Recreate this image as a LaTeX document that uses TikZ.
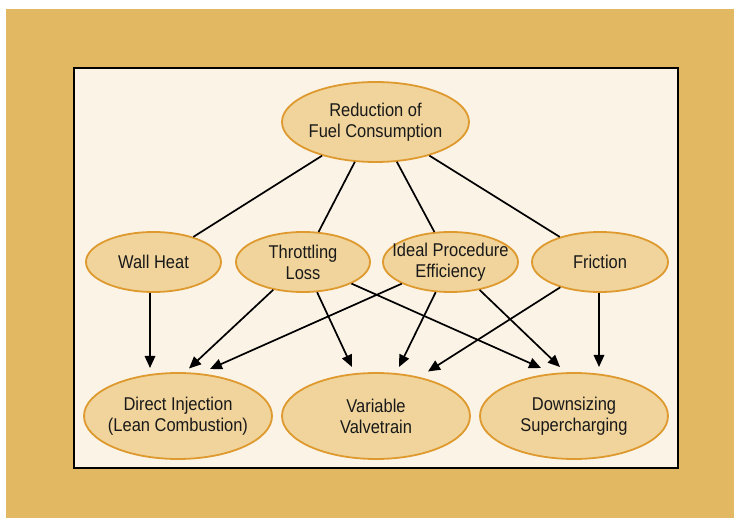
\documentclass[tikz,border=0pt]{standalone}
\usepackage{fontspec}
\setmainfont{Liberation Sans}[FakeStretch=0.89]
\usetikzlibrary{arrows.meta,shapes.geometric}
\definecolor{tanbg}{HTML}{E3B862}
\definecolor{panel}{HTML}{FCF3E7}
\definecolor{ellfill}{HTML}{F0D49C}
\definecolor{ellline}{HTML}{DE9A2E}
\tikzset{
  ell/.style={ellipse, draw=ellline, fill=ellfill, line width=1.8pt, inner sep=0pt},
  txt/.style={align=center, inner sep=0pt, text=black!90, font=\fontsize{18.5}{21}\selectfont},
  link/.style={line width=1.7pt, black},
  arr/.style={line width=1.7pt, black, -{Triangle[length=12pt,width=10.5pt]}}
}
\begin{document}
\begin{tikzpicture}[x=1pt,y=-1pt]
\useasboundingbox (0,0) rectangle (734,518);
\fill[white] (0,0) rectangle (734,518);
\fill[tanbg] (6,9) rectangle (734,518);
\draw[fill=panel, line width=1.4pt] (74,68) rectangle (678,468);
% nodes
\node[ell, minimum width=187pt, minimum height=80pt] (RF) at (375.5,122) {};
\node[txt] (RFt) at (RF) {Reduction of\\Fuel Consumption};
\node[ell, minimum width=135pt, minimum height=60pt] (WH) at (153.5,262) {};
\node[txt] (WHt) at (WH) {Wall Heat};
\node[ell, minimum width=134pt, minimum height=60pt] (TL) at (303,262) {};
\node[txt] (TLt) at (TL) {Throttling\\Loss};
\node[ell, minimum width=135pt, minimum height=60pt] (IP) at (450.5,262) {};
\node[txt] (IPt) at (IP) {Ideal Procedure\\Efficiency};
\node[ell, minimum width=136pt, minimum height=60pt] (FR) at (600,262) {};
\node[txt] (FRt) at (FR) {Friction};
\node[ell, minimum width=188pt, minimum height=86pt] (DI) at (178,416) {};
\node[txt] (DIt) at (DI) {Direct Injection\\(Lean Combustion)};
\node[ell, minimum width=188pt, minimum height=86pt] (VV) at (376,416) {};
\node[txt] (VVt) at (VV) {Variable\\Valvetrain};
\node[ell, minimum width=188pt, minimum height=86pt] (DS) at (574,416) {};
\node[txt] (DSt) at (DS) {Downsizing\\Supercharging};
% arrow tips
\coordinate (tWH) at (150,368);
\coordinate (tTLa) at (189,368.5);
\coordinate (tIPa) at (210,369);
\coordinate (tTLb) at (352,367);
\coordinate (tIPb) at (399,367);
\coordinate (tFRb) at (428,371.5);
\coordinate (tTLc) at (541,368);
\coordinate (tIPc) at (560,367);
\coordinate (tFR) at (599,367);
% top links
\draw[link] (RF) -- (WH);
\draw[link] (RF) -- (TL);
\draw[link] (RF) -- (IP);
\draw[link] (RF) -- (FR);
% arrows
\draw[arr] (tWH |- WH.south) -- (tWH);
\draw[arr] (TL) -- (tTLa);
\draw[arr] (IP) -- (tIPa);
\draw[arr] (TL) -- (tTLb);
\draw[arr] (IP) -- (tIPb);
\draw[arr] (FR) -- (tFRb);
\draw[arr] (TL) -- (tTLc);
\draw[arr] (IP) -- (tIPc);
\draw[arr] (tFR |- FR.south) -- (tFR);
\end{tikzpicture}
\end{document}
